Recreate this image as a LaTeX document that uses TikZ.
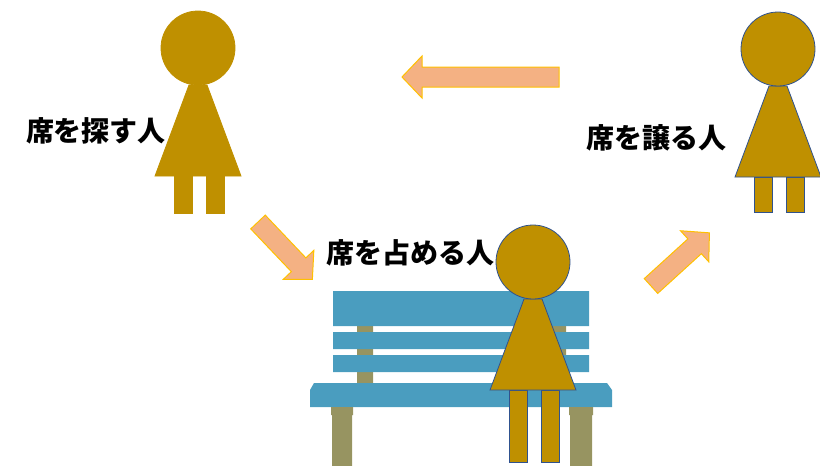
\documentclass[tikz,border=0pt]{standalone}
\usepackage{fontspec}
\newfontfamily\jp{Noto Sans CJK JP}
\definecolor{gold}{HTML}{BF9000}
\definecolor{edgeblue}{HTML}{2F528F}
\definecolor{benchblue}{HTML}{4A9DBF}
\definecolor{benchpost}{HTML}{979461}
\definecolor{arrowfill}{HTML}{F4B183}
\definecolor{arrowedge}{HTML}{FFC000}

% a standing figure, head centre at (#1,#2), legs #3 long
\newcommand\person[4]{%
  \begin{scope}[shift={(#1,#2)}]
    \filldraw[figure,#4] (-24,128) rectangle (-6,128+#3);
    \filldraw[figure,#4] (8,128) rectangle (26,128+#3);
    \filldraw[figure,#4] (-9,37) -- (9,37) -- (43,128) -- (-43,128) -- cycle;
    \filldraw[figure,#4] (0,0) circle[radius=37];
  \end{scope}}

% block arrow from its tail at (#1,#2), turned by #3, #4 long
\newcommand\blockarrow[4]{%
  \filldraw[flow,shift={(#1,#2)},rotate=#3]
    (0,-10) -- (#4-20,-10) -- (#4-20,-21) -- (#4,0) -- (#4-20,21) -- (#4-20,10) -- (0,10) -- cycle;}

\begin{document}
\begin{tikzpicture}[x=1pt,y=-1pt,
  figure/.style={fill=gold,draw=gold,line width=0.8pt},
  outlined/.style={draw=edgeblue},
  flow/.style={fill=arrowfill,draw=arrowedge,line width=1pt,line join=miter},
  role/.style={font=\jp\bfseries\fontsize{28}{30}\selectfont,inner sep=0pt},
  ]
\useasboundingbox (0,0) rectangle (820,466);

% the bench
\fill[benchpost] (357,320) rectangle (373,383) (549,320) rectangle (566,383);
\fill[benchblue] (333,291) rectangle (589,326)
                 (333,332) rectangle (589,349)
                 (333,355) rectangle (589,372);
\fill[benchblue] (314,383) -- (607,383) -- (612,390) -- (612,407)
                 -- (310,407) -- (310,390) -- cycle;
\fill[benchpost] (331,407) rectangle (353,415) (332,415) rectangle (352,466);
\fill[benchpost] (569,407) rectangle (593,415) (570,415) rectangle (592,466);

% who is who
\node[role] (seeker) at (96,131) {席を探す人};
\node[role] (giver) at (656,138) {席を譲る人};
\node[role] (occupant) at (410,253) {席を占める人};

\person{198}{48}{37}{}
\person{778}{49}{35}{outlined}
\person{533}{262}{72}{outlined}

% the round of the seat
\blockarrow{559}{77}{180}{157}
\blockarrow{258}{222}{-46.5}{79}
\blockarrow{651}{286}{42.3}{79}
\end{tikzpicture}
\end{document}
